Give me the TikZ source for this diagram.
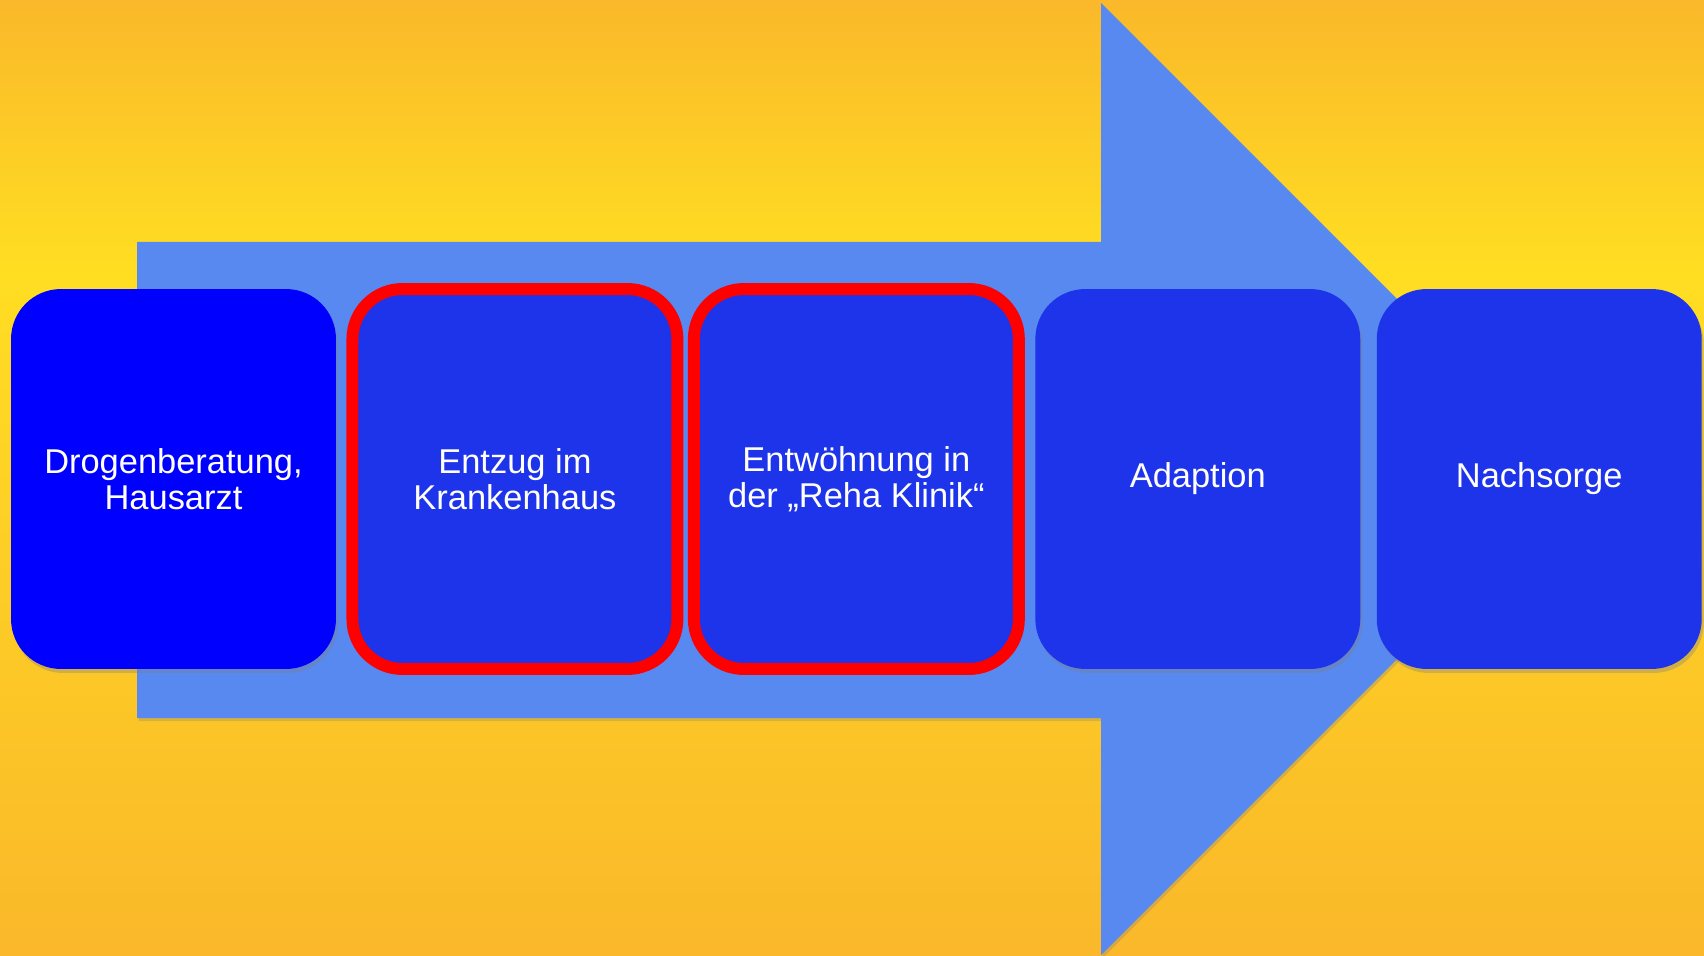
\documentclass[tikz,border=0pt]{standalone}
\usepackage{fontspec}
\setmainfont{Liberation Sans}
\usetikzlibrary{positioning,shadows}
\definecolor{arrowblue}{RGB}{87,137,240}
\definecolor{boxblue}{RGB}{30,52,234}
\definecolor{bgorange}{RGB}{250,184,42}
\definecolor{bgyellow}{RGB}{255,222,34}
\tikzset{
  stage/.style={rectangle, rounded corners=1cm, fill=boxblue, text=white,
    align=center, minimum width=6.5cm, minimum height=7.6cm,
    inner sep=0pt, outer sep=0pt, font=\fontsize{19.6}{20.4}\selectfont,
    drop shadow={shadow xshift=0.04cm, shadow yshift=-0.08cm, opacity=0.35}},
  marked/.style={draw=red, line width=0.24cm}
}
\begin{document}
\begin{tikzpicture}[x=0.02cm,y=-0.02cm]
% background
\shade[top color=bgorange, bottom color=bgyellow] (0,0) rectangle (1704,270);
\shade[top color=bgyellow, bottom color=bgorange] (0,270) rectangle (1704,956);
\useasboundingbox (0,0) rectangle (1704,956);
% big arrow
\fill[arrowblue, drop shadow={shadow xshift=0.03cm, shadow yshift=-0.06cm, opacity=0.3}]
  (137,242) -- (1101,242) -- (1101,3) -- (1577,479)
  -- (1101,955) -- (1101,718) -- (137,718) -- cycle;
% stages
\node[stage, fill=blue] (drogen) at (173.5,479) {Drogenberatung,\\Hausarzt};
\node[stage, marked, right=0.33cm of drogen] (entzug) {Entzug im\\Krankenhaus};
\node[stage, marked, right=0.33cm of entzug] (reha) {Entwöhnung in\\der „Reha Klinik“};
\node[stage, right=0.33cm of reha] (adaption) {Adaption};
\node[stage, right=0.33cm of adaption] (nachsorge) {Nachsorge};
\end{tikzpicture}
\end{document}
